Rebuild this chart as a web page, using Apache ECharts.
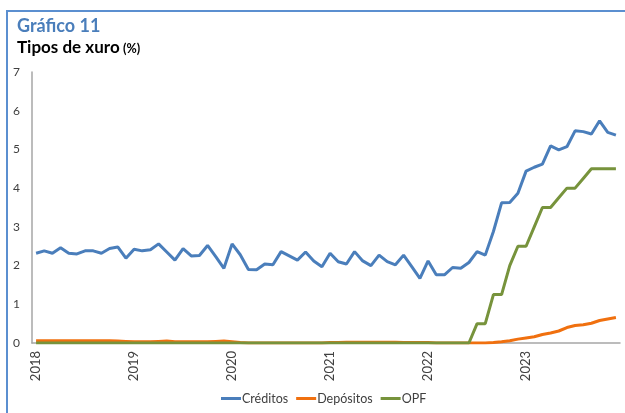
<!DOCTYPE html>
<html>
<head>
<meta charset="utf-8">
<script src="https://cdn.jsdelivr.net/npm/echarts@6/dist/echarts.min.js"></script>
<style>
  html, body { margin: 0; padding: 0; background: #fff; }
  #chart { width: 625px; height: 413px; }
</style>
</head>
<body>
<div id="chart"></div>
<script>
// Monthly categories, Jan 2018 – Dec 2023
const years = ['2018', '2019', '2020', '2021', '2022', '2023'];
const months = [];
years.forEach(y => { for (let m = 1; m <= 12; m++) months.push(y + '-' + String(m).padStart(2, '0')); });

const yTicks = [0, 1, 2, 3, 4, 5, 6, 7];

// Interest rate on new loans (%)
const creditos = [
  2.32, 2.38, 2.32, 2.46, 2.32, 2.30, 2.38, 2.38, 2.32, 2.44, 2.48, 2.19,
  2.42, 2.38, 2.41, 2.56, 2.35, 2.14, 2.44, 2.25, 2.26, 2.52, 2.23, 1.93,
  2.56, 2.28, 1.90, 1.89, 2.04, 2.02, 2.36, 2.25, 2.14, 2.35, 2.12, 1.97,
  2.32, 2.10, 2.04, 2.36, 2.12, 2.00, 2.27, 2.10, 2.02, 2.27, 1.97, 1.67,
  2.12, 1.76, 1.76, 1.95, 1.93, 2.08, 2.36, 2.27, 2.88, 3.62, 3.63, 3.87,
  4.44, 4.54, 4.62, 5.09, 4.99, 5.07, 5.48, 5.46, 5.40, 5.74, 5.44, 5.37
];

// Interest rate on new deposits (%)
const depositos = [
  0.06, 0.06, 0.06, 0.06, 0.06, 0.06, 0.06, 0.06, 0.06, 0.06, 0.05, 0.04,
  0.03, 0.03, 0.03, 0.04, 0.05, 0.03, 0.03, 0.03, 0.03, 0.03, 0.04, 0.05,
  0.03, 0.01, 0.00, 0.00, 0.00, 0.00, 0.00, 0.00, 0.00, 0.00, 0.00, 0.00,
  0.01, 0.01, 0.02, 0.02, 0.02, 0.02, 0.02, 0.02, 0.02, 0.01, 0.01, 0.01,
  0.01, 0.00, 0.00, 0.00, 0.00, 0.00, 0.00, 0.00, 0.01, 0.03, 0.06, 0.10,
  0.13, 0.16, 0.22, 0.26, 0.31, 0.40, 0.45, 0.47, 0.51, 0.58, 0.62, 0.66
];

// Main refinancing operations rate (%)
const opf = [
  0, 0, 0, 0, 0, 0, 0, 0, 0, 0, 0, 0,
  0, 0, 0, 0, 0, 0, 0, 0, 0, 0, 0, 0,
  0, 0, 0, 0, 0, 0, 0, 0, 0, 0, 0, 0,
  0, 0, 0, 0, 0, 0, 0, 0, 0, 0, 0, 0,
  0, 0, 0, 0, 0, 0, 0.5, 0.5, 1.25, 1.25, 2.0, 2.5,
  2.5, 3.0, 3.5, 3.5, 3.75, 4.0, 4.0, 4.25, 4.5, 4.5, 4.5, 4.5
];

const seriesNames = ['Créditos', 'Depósitos', 'OPF'];
const seriesColors = ['#4a7ebb', '#f0700f', '#77933c'];
const seriesData = [creditos, depositos, opf];

const chart = echarts.init(document.getElementById('chart'), null, { renderer: 'canvas' });

chart.setOption({
  animation: false,
  backgroundColor: '#ffffff',
  graphic: [
    {
      type: 'rect',
      shape: { x: 7, y: 11, width: 700, height: 500 },
      style: { fill: 'none', stroke: '#5b8fd0', lineWidth: 2 }
    },
    {
      type: 'text',
      left: 17, top: 17,
      style: { text: 'Gráfico 11', fill: '#4a7ebb', font: 'bold 18px Lato' }
    },
    {
      type: 'text',
      left: 17, top: 39,
      style: {
        text: '{a|Tipos de xuro} {b|(%)}',
        rich: {
          a: { fill: '#000', font: 'bold 17px Lato' },
          b: { fill: '#000', font: 'bold 12.5px Lato', padding: [3, 0, 0, 0] }
        }
      }
    }
  ],
  grid: { left: 32, right: 5, top: 72, bottom: 70, containLabel: false },
  legend: {
    data: seriesNames,
    bottom: 3,
    left: 216,
    icon: 'rect',
    itemWidth: 20,
    itemHeight: 3,
    itemGap: 8,
    textStyle: { color: '#404040', fontSize: 12.5, fontFamily: 'Lato', padding: [0, 0, 0, -4] }
  },
  xAxis: {
    type: 'category',
    data: months,
    boundaryGap: true,
    axisLine: { show: true, lineStyle: { color: '#a6a6a6', width: 1.5 } },
    axisTick: { show: false },
    axisLabel: {
      interval: 11,
      rotate: 90,
      margin: 8,
      color: '#404040',
      fontSize: 13,
      fontFamily: 'Lato',
      formatter: v => v.slice(0, 4)
    },
    splitLine: { show: false }
  },
  yAxis: {
    type: 'value',
    min: yTicks[0],
    max: yTicks[yTicks.length - 1],
    interval: 1,
    axisLine: { show: true, lineStyle: { color: '#a6a6a6', width: 1.5 } },
    axisTick: { show: false },
    axisLabel: { color: '#404040', fontSize: 12, fontFamily: 'Lato', margin: 12 },
    splitLine: { show: false }
  },
  series: seriesNames.map((name, k) => ({
    name: name,
    type: 'line',
    data: seriesData[k],
    symbol: 'none',
    showSymbol: false,
    lineStyle: { color: seriesColors[k], width: 3 },
    itemStyle: { color: seriesColors[k] },
    z: 2 + k
  }))
});
</script>
</body>
</html>
